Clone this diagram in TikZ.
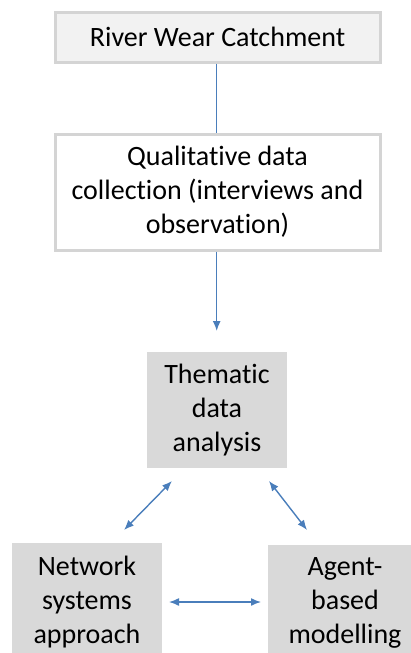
\documentclass[tikz,border=0pt]{standalone}
\usepackage{fontspec}
\setmainfont{Carlito}[Ligatures=NoCommon]
\usetikzlibrary{arrows.meta}
\definecolor{boxline}{HTML}{D4D4D4}
\definecolor{lightfill}{HTML}{F2F2F2}
\definecolor{grayfill}{HTML}{D9D9D9}
\definecolor{arrowblue}{HTML}{4A7EBB}
\begin{document}
\begin{tikzpicture}[x=1pt,y=-1pt,
  every node/.style={font=\fontsize{28}{34}\selectfont, align=center, inner sep=0pt},
  outlinebox/.style={draw=boxline, line width=3pt, minimum width=325pt},
  graybox/.style={fill=grayfill, draw=none},
  conn/.style={draw=arrowblue, line width=1.4pt},
  tip/.style={-{Latex[length=10pt,width=8pt]}},
  twotip/.style={{Latex[length=10pt,width=8pt]}-{Latex[length=10pt,width=8pt]}}
]
\useasboundingbox (0,0) rectangle (411,653);
\node[outlinebox, fill=lightfill, minimum height=50pt] (top) at (217.5,37) {River Wear Catchment};
\node[outlinebox, fill=white, minimum height=116pt] (qual) at (217.5,192) {Qualitative data\\collection (interviews and\\observation)};
\node[graybox, minimum width=140pt, minimum height=116pt] (them) at (217,410) {Thematic\\data\\analysis};
\node[graybox, minimum width=150pt, minimum height=118pt] (net) at (87,602) {Network\\systems\\approach};
\node[graybox, minimum width=154pt, minimum height=116pt] (abm) at (345,603) {Agent-\\based\\modelling};
\coordinate (qa) at (216.7,331);
\coordinate (l1) at (172,481);
\coordinate (l2) at (124,530);
\coordinate (r1) at (269,481);
\coordinate (r2) at (307,530);
\coordinate (h1) at (169,602);
\coordinate (h2) at (261,602);
\draw[conn] ([xshift=-0.8pt]top.south) -- ([xshift=-0.8pt]qual.north);
\draw[conn, tip] ([xshift=-0.8pt]qual.south) -- (qa);
\draw[conn, twotip] (l1) -- (l2);
\draw[conn, twotip] (r1) -- (r2);
\draw[conn, twotip] (h1) -- (h2);
\end{tikzpicture}
\end{document}
